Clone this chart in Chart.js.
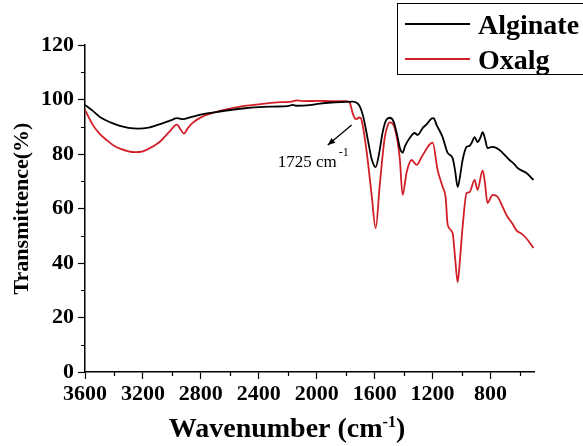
<!doctype html>
<html lang="en">
<head>
<meta charset="utf-8">
<title>FTIR</title>
<script src="https://cdn.jsdelivr.net/npm/chart.js@4.4.0/dist/chart.umd.min.js"></script>
<style>
  html, body { margin: 0; padding: 0; background: #fff; }
  #wrap { width: 583px; height: 446px; position: relative; }
</style>
</head>
<body>
<div id="wrap"><canvas id="myChart"></canvas></div>
<script>
// values
const alginateWn = [3600, 3550, 3497, 3420, 3359, 3300, 3234, 3152, 3062, 3000, 2966, 2924, 2876, 2786, 2669, 2510, 2400, 2300, 2200, 2165, 2140, 2050, 1979, 1900, 1800, 1752, 1720, 1703, 1680, 1650, 1620, 1593, 1570, 1545, 1520, 1496, 1470, 1445, 1425, 1407, 1390, 1358, 1324, 1303, 1269, 1240, 1207, 1193, 1172, 1131, 1096, 1062, 1045, 1027, 1010, 993, 965, 945, 931, 910, 890, 870, 855, 840, 821, 786, 738, 700, 669, 640, 614, 580, 552, 503];
const alginateT = [98, 96, 93.6, 91.5, 90.3, 89.6, 89.3, 89.8, 91.3, 92.5, 93.2, 92.8, 93.4, 94.6, 95.6, 96.7, 97.2, 97.4, 97.6, 98.0, 97.7, 97.9, 98.5, 98.9, 99.1, 99.2, 98.6, 97.5, 94, 86, 78, 75.2, 80, 88, 92.5, 93.3, 92, 87, 82, 80.5, 83, 85.9, 87.7, 87, 89.5, 91, 93, 93.2, 90.6, 86.2, 80.4, 78.5, 74, 67.9, 72, 77.8, 82.6, 83, 84, 86.2, 84.4, 86, 88, 86, 82.2, 82.6, 81.5, 79.5, 77.8, 76.5, 74.9, 73.8, 73, 70.5];

const oxalgWn = [3600, 3545, 3500, 3448, 3400, 3359, 3300, 3255, 3200, 3172, 3083, 3020, 2966, 2940, 2917, 2890, 2855, 2786, 2669, 2510, 2400, 2345, 2250, 2165, 2140, 2100, 1979, 1900, 1793, 1772, 1752, 1735, 1724, 1710, 1696, 1683, 1655, 1621, 1593, 1565, 1531, 1510, 1496, 1462, 1427, 1407, 1379, 1345, 1310, 1276, 1220, 1200, 1165, 1131, 1110, 1096, 1062, 1045, 1027, 1010, 993, 965, 945, 910, 890, 855, 840, 821, 786, 752, 720, 690, 650, 621, 580, 552, 503];
const oxalgT = [96.2, 90.6, 87.5, 85, 83, 82, 81, 80.7, 81, 81.6, 84.5, 88, 90.8, 89, 87.5, 89.5, 91.5, 93.8, 95.8, 97.6, 98.2, 98.6, 99, 99.3, 99.7, 99.4, 99.5, 99.4, 99.4, 98.8, 95, 93, 92.8, 93.4, 93.2, 90.6, 80.7, 65, 52.8, 68.6, 85.9, 90.5, 91.6, 89.5, 78.5, 65, 73.4, 77.8, 76, 78.9, 83.5, 84.2, 74, 68, 64, 54, 51, 42, 33, 42, 53.2, 65.7, 66, 70.5, 66.8, 74, 70, 62, 65, 64.3, 61, 57.6, 54.5, 52, 50.5, 49, 45.5];

const seriesLabels = ['Alginate', 'Oxalg'];
const seriesColors = ['#000000', '#d21f26'];
const xTicks = [3600, 3200, 2800, 2400, 2000, 1600, 1200, 800];
const xMinorTicks = [3400, 3000, 2600, 2200, 1800, 1400, 1000, 600];
const yMinorTicks = [10, 30, 50, 70, 90, 110];
const peakLabel = '1725 cm';

const serif = '"Liberation Serif", "Times New Roman", serif';

function toPoints(xs, ys) {
  return xs.map((x, i) => ({ x: x, y: ys[i] }));
}

const data = {
  datasets: [
    {
      label: seriesLabels[0],
      data: toPoints(alginateWn, alginateT),
      borderColor: seriesColors[0],
      backgroundColor: seriesColors[0],
      borderWidth: 1.8,
      pointRadius: 0,
      cubicInterpolationMode: 'monotone'
    },
    {
      label: seriesLabels[1],
      data: toPoints(oxalgWn, oxalgT),
      borderColor: seriesColors[1],
      backgroundColor: seriesColors[1],
      borderWidth: 1.8,
      pointRadius: 0,
      cubicInterpolationMode: 'monotone'
    }
  ]
};

// minor ticks, boxed legend, peak label, x title with superscript
const extras = {
  id: 'extras',
  afterDraw(chart) {
    const ctx = chart.ctx;
    const xs = chart.scales.x;
    const ys = chart.scales.y;
    const area = chart.chartArea;
    ctx.save();

    // minor ticks
    ctx.strokeStyle = '#000';
    ctx.lineWidth = 1.2;
    ctx.beginPath();
    xMinorTicks.forEach(v => {
      const px = Math.round(xs.getPixelForValue(v)) + 0.5;
      ctx.moveTo(px, area.bottom);
      ctx.lineTo(px, area.bottom + 4);
    });
    yMinorTicks.forEach(v => {
      const py = Math.round(ys.getPixelForValue(v)) + 0.5;
      ctx.moveTo(area.left, py);
      ctx.lineTo(area.left - 4, py);
    });
    ctx.stroke();

    // legend box
    ctx.lineWidth = 1;
    ctx.strokeStyle = '#000';
    ctx.strokeRect(397.5, 3.5, 220, 71);
    ctx.font = 'bold 28px ' + serif;
    ctx.textBaseline = 'alphabetic';
    ctx.textAlign = 'left';
    chart.data.datasets.forEach((ds, i) => {
      const ly = 24 + i * 35;
      ctx.strokeStyle = ds.borderColor;
      ctx.lineWidth = 2;
      ctx.beginPath();
      ctx.moveTo(405, ly);
      ctx.lineTo(470, ly);
      ctx.stroke();
      ctx.fillStyle = '#000';
      ctx.fillText(ds.label, 478, ly + 10);
    });

    // peak annotation arrow
    const ax0 = xs.getPixelForValue(1759), ay0 = ys.getPixelForValue(90.6);
    const ax1 = xs.getPixelForValue(1924), ay1 = ys.getPixelForValue(83.3);
    ctx.strokeStyle = '#000';
    ctx.lineWidth = 1.3;
    ctx.beginPath();
    ctx.moveTo(ax0, ay0);
    ctx.lineTo(ax1, ay1);
    ctx.stroke();
    const ang = Math.atan2(ay1 - ay0, ax1 - ax0);
    ctx.fillStyle = '#000';
    ctx.beginPath();
    ctx.moveTo(ax1, ay1);
    ctx.lineTo(ax1 - 8 * Math.cos(ang - 0.4), ay1 - 8 * Math.sin(ang - 0.4));
    ctx.lineTo(ax1 - 8 * Math.cos(ang + 0.4), ay1 - 8 * Math.sin(ang + 0.4));
    ctx.closePath();
    ctx.fill();

    const tx = xs.getPixelForValue(2270), ty = ys.getPixelForValue(75.2);
    ctx.font = '17px ' + serif;
    ctx.fillText(peakLabel, tx, ty);
    const w = ctx.measureText(peakLabel).width;
    ctx.font = '12px ' + serif;
    ctx.fillText('-1', tx + w + 2, ty - 11);

    // x axis title
    const part1 = 'Wavenumber (cm';
    const sup = '-1';
    const part2 = ')';
    ctx.font = 'bold 28px ' + serif;
    const w1 = ctx.measureText(part1).width;
    const w3 = ctx.measureText(part2).width;
    ctx.font = 'bold 16px ' + serif;
    const w2 = ctx.measureText(sup).width;
    let x0 = 287 - (w1 + w2 + w3) / 2;
    const base = 437;
    ctx.font = 'bold 28px ' + serif;
    ctx.fillText(part1, x0, base);
    ctx.font = 'bold 16px ' + serif;
    ctx.fillText(sup, x0 + w1, base - 10);
    ctx.font = 'bold 28px ' + serif;
    ctx.fillText(part2, x0 + w1 + w2, base);

    ctx.restore();
  }
};

const config = {
  type: 'line',
  data: data,
  options: {
    responsive: true,
    maintainAspectRatio: false,
    animation: false,
    layout: {
      padding: { left: 0, top: 45, right: 49, bottom: 0 }
    },
    scales: {
      x: {
        type: 'linear',
        reverse: true,
        min: 500,
        max: 3600,
        afterBuildTicks: scale => {
          scale.ticks = xTicks.map(v => ({ value: v }));
        },
        afterFit: scale => { scale.height = 74; },
        grid: {
          display: true,
          drawOnChartArea: false,
          drawTicks: true,
          tickLength: 7,
          tickWidth: 1.2,
          color: '#000'
        },
        border: { display: true, color: '#000', width: 1.5 },
        ticks: {
          color: '#000',
          padding: 2,
          maxRotation: 0,
          autoSkip: false,
          callback: value => String(value),
          font: { family: serif, size: 22, weight: 'bold' }
        },
        title: { display: false }
      },
      y: {
        min: 0,
        max: 120,
        afterFit: scale => { scale.width = 85; },
        grid: {
          display: true,
          drawOnChartArea: false,
          drawTicks: true,
          tickLength: 7,
          tickWidth: 1.2,
          color: '#000'
        },
        border: { display: true, color: '#000', width: 1.5 },
        ticks: {
          stepSize: 20,
          color: '#000',
          padding: 4,
          font: { family: serif, size: 22, weight: 'bold' }
        },
        title: {
          display: true,
          text: 'Transmittence(%)',
          color: '#000',
          padding: { top: 9, bottom: 0 },
          font: { family: serif, size: 22, weight: 'bold' }
        }
      }
    },
    plugins: {
      legend: { display: false },
      tooltip: { enabled: false }
    }
  },
  plugins: [extras]
};

const myChart = new Chart(document.getElementById('myChart'), config);
</script>
</body>
</html>
